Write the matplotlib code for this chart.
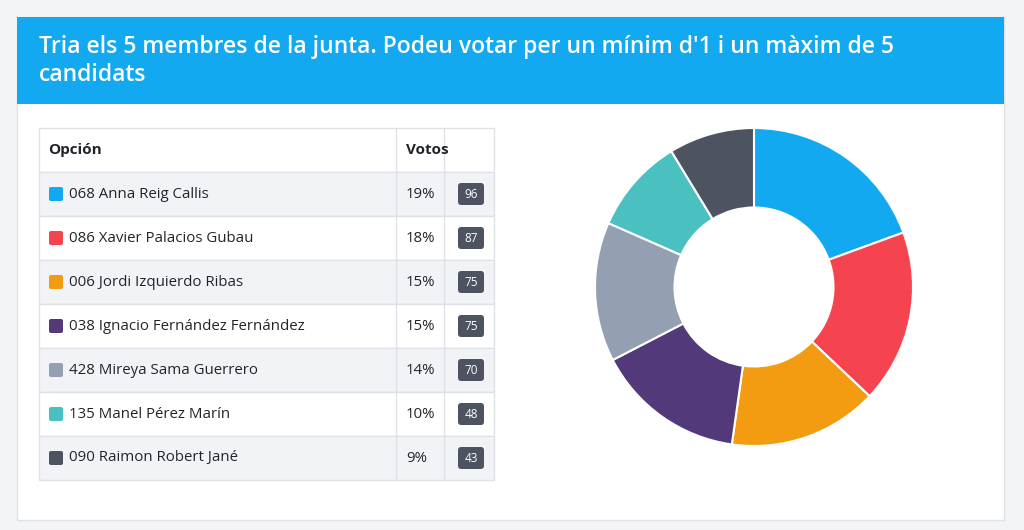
import matplotlib.pyplot as plt
from matplotlib.patches import Rectangle, FancyBboxPatch

title = "Tria els 5 membres de la junta. Podeu votar per un mínim d'1 i un màxim de 5\ncandidats"
names = ["068 Anna Reig Callis", "086 Xavier Palacios Gubau", "006 Jordi Izquierdo Ribas",
         "038 Ignacio Fernández Fernández", "428 Mireya Sama Guerrero",
         "135 Manel Pérez Marín", "090 Raimon Robert Jané"]
pcts = ["19%", "18%", "15%", "15%", "14%", "10%", "9%"]
votes = [96, 87, 75, 75, 70, 48, 43]
colors = ["#12a9f1", "#f5444f", "#f39c12", "#52397a", "#94a0b2", "#4bc0c0", "#4d5360"]

fig = plt.figure(figsize=(10.24, 5.30), dpi=100)
fig.patch.set_facecolor("#f3f4f6")

# pixel-coordinate canvas
ax = fig.add_axes([0, 0, 1, 1])
ax.set_xlim(0, 1024)
ax.set_ylim(530, 0)
ax.axis("off")

# card + header
ax.add_patch(Rectangle((17, 17), 987, 503, facecolor="white", edgecolor="#dee2e6", lw=1))
ax.add_patch(Rectangle((17, 17), 987, 87, facecolor="#12a9f1", edgecolor="none"))
ax.text(39, 61, title, color="white", fontsize=16.5, fontweight="semibold", va="center",
        family="Open Sans", linespacing=1.25)

# table
x0, x1, x2, x3 = 39, 396, 444, 494
top, hh, rh = 128, 44, 44
grid = "#dee2e6"
ax.add_patch(Rectangle((x0, top), x3 - x0, hh, facecolor="white", edgecolor=grid, lw=1))
ax.text(48, top + hh / 2, "Opción", fontsize=11, fontweight="bold", va="center", family="Open Sans", color="#212529")
ax.text(406, top + hh / 2, "Votos", fontsize=11, fontweight="bold", va="center", family="Open Sans", color="#212529")
for i, (n, p, v, c) in enumerate(zip(names, pcts, votes, colors)):
    y = top + hh + i * rh
    fc = "#f2f3f6" if i % 2 == 0 else "white"
    ax.add_patch(Rectangle((x0, y), x3 - x0, rh, facecolor=fc, edgecolor=grid, lw=1))
    yc = y + rh / 2
    ax.add_patch(FancyBboxPatch((49, yc - 7), 14, 14, boxstyle="round,pad=0,rounding_size=2",
                                facecolor=c, edgecolor="none"))
    ax.text(69, yc, n, fontsize=10.8, va="center", family="Open Sans", color="#212529")
    ax.text(406, yc, p, fontsize=10.8, va="center", family="Open Sans", color="#212529")
    ax.add_patch(FancyBboxPatch((458, yc - 11), 26, 22, boxstyle="round,pad=0,rounding_size=3",
                                facecolor="#4d5360", edgecolor="none"))
    ax.text(471, yc, str(v), fontsize=8.5, va="center", ha="center", color="white", family="Open Sans")
for xv in (x1, x2):
    ax.plot([xv, xv], [top, top + hh + rh * len(names)], color=grid, lw=1)

# donut
cx, cy, r = 754, 287, 159
pax = fig.add_axes([(cx - r) / 1024, 1 - (cy + r) / 530, 2 * r / 1024, 2 * r / 530])
pax.pie(votes, colors=colors, startangle=90, counterclock=False, radius=1,
        wedgeprops=dict(width=0.5, edgecolor="white", linewidth=1.5))
pax.set_xlim(-1, 1)
pax.set_ylim(-1, 1)
pax.set_aspect("equal")

fig.savefig("out.png", dpi=100, facecolor=fig.get_facecolor())
